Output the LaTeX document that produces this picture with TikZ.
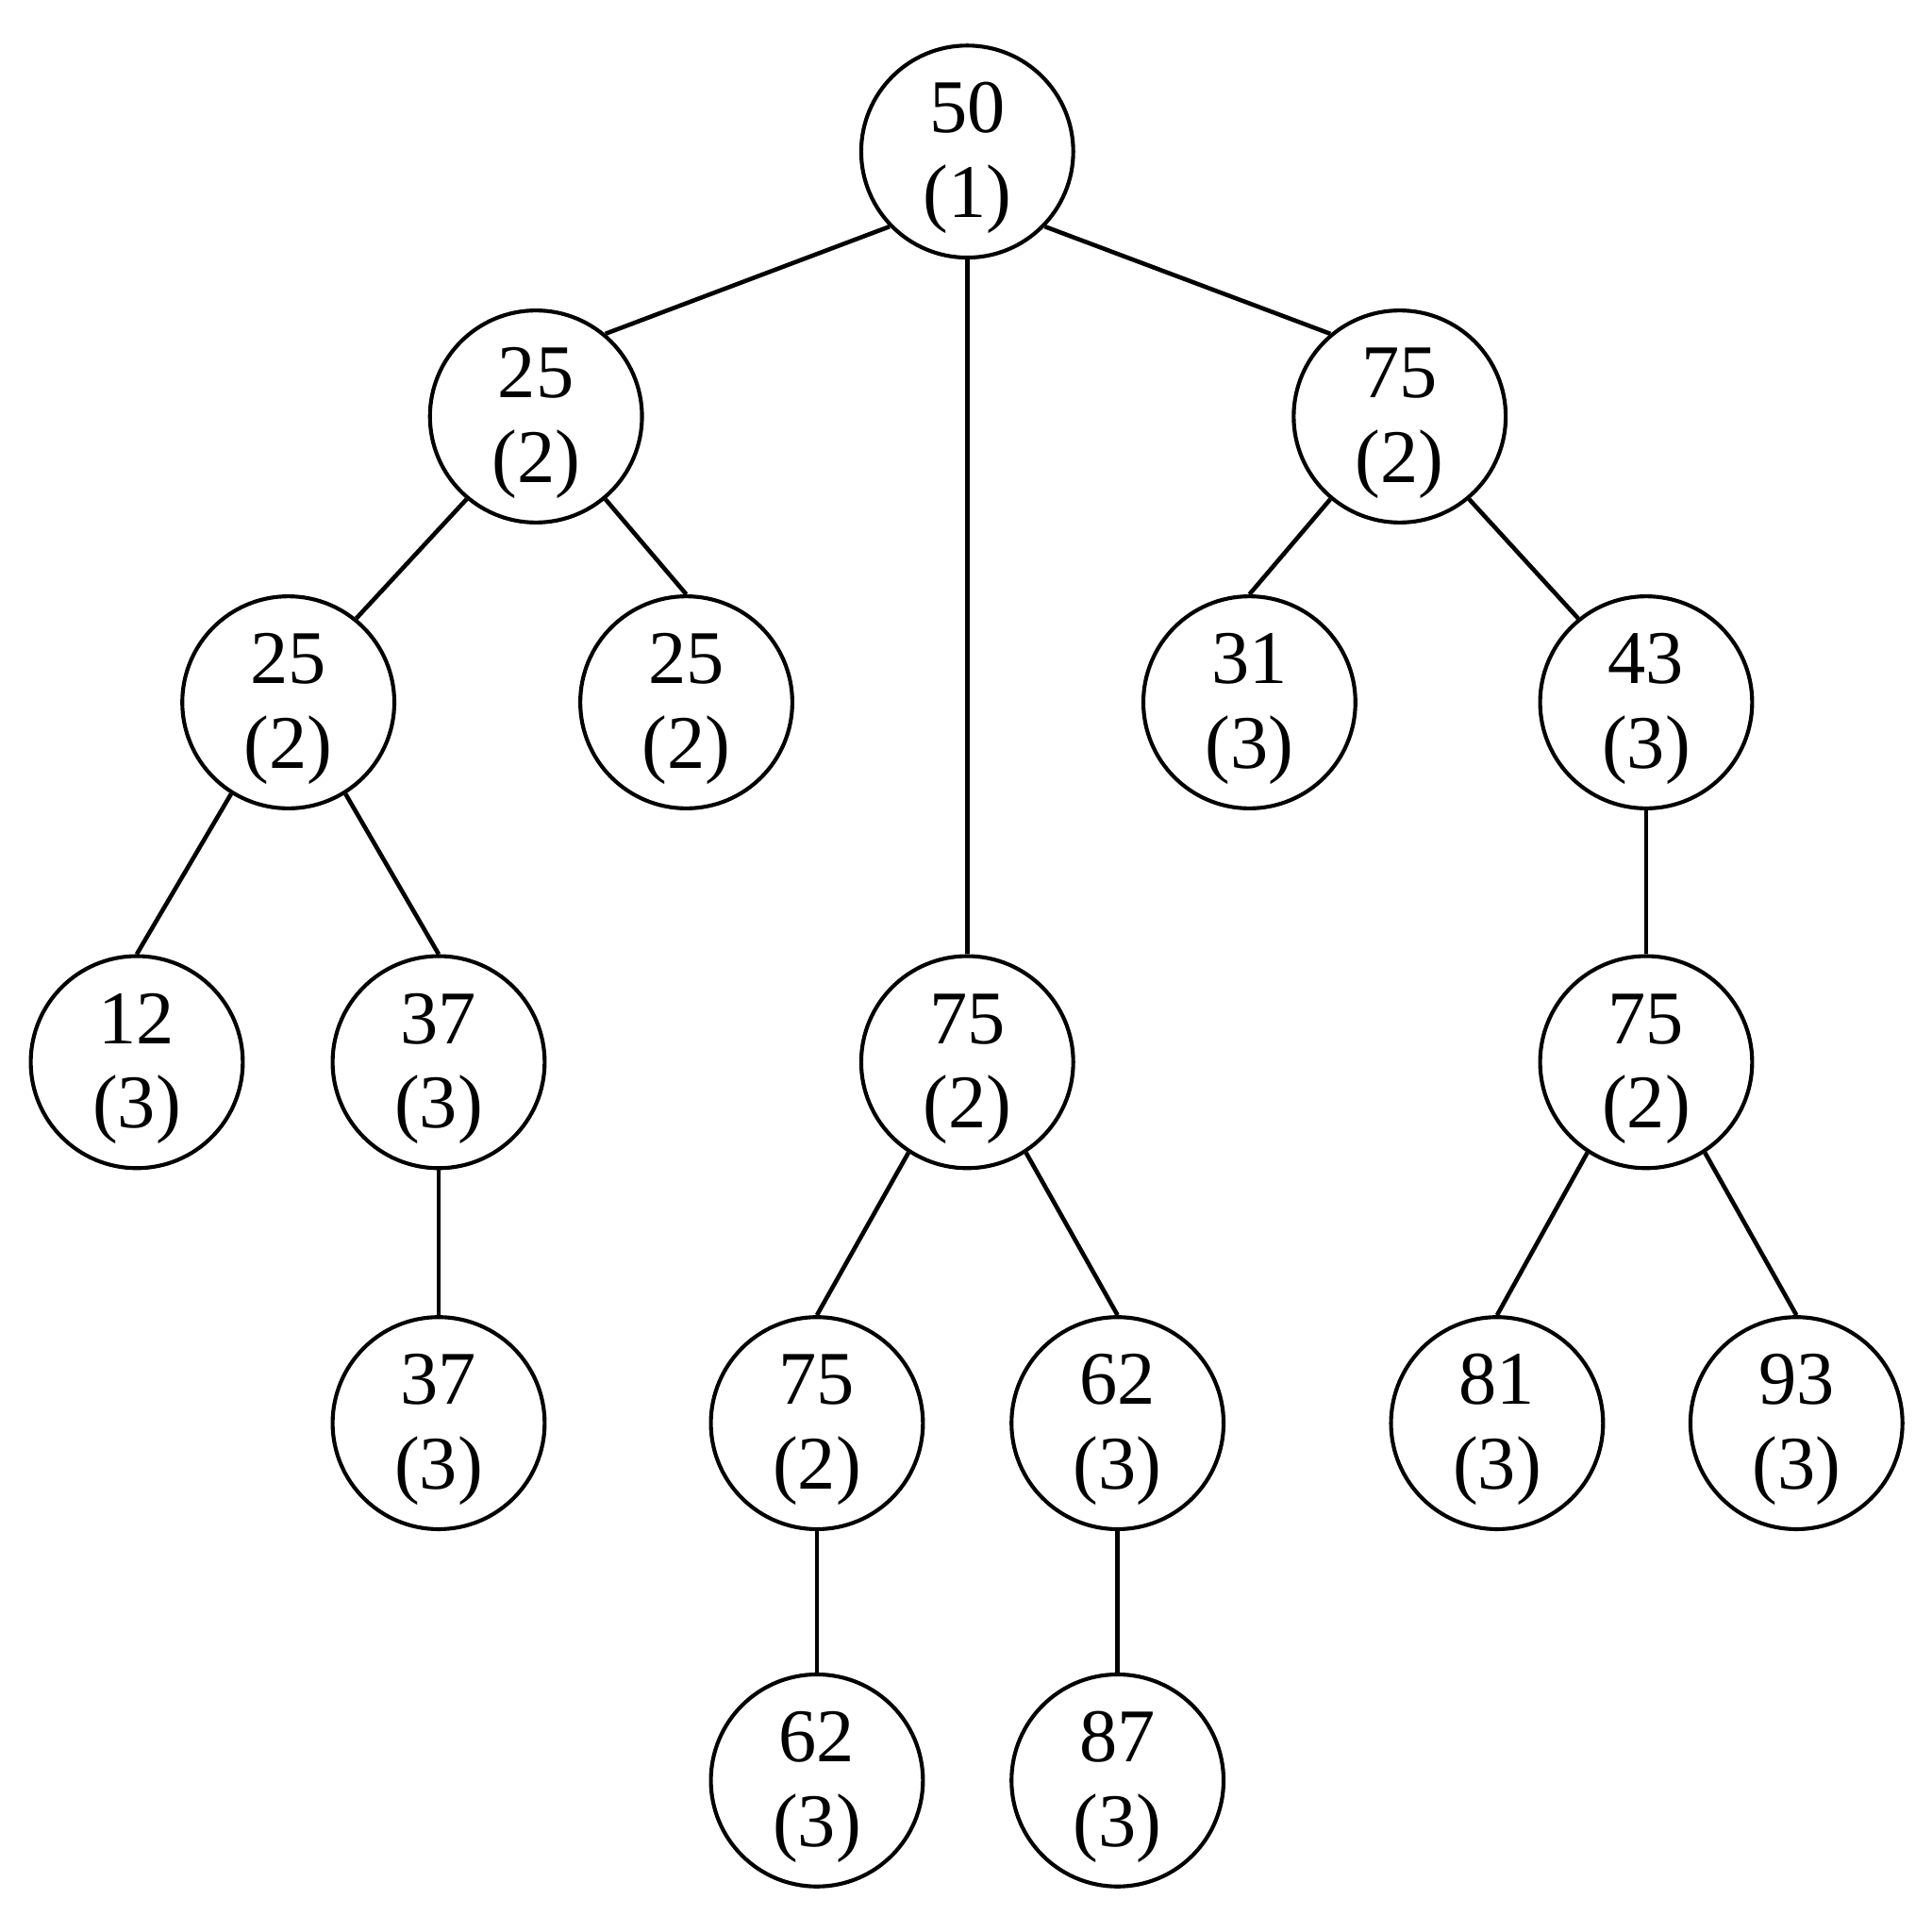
\documentclass[tikz,border=0pt]{standalone}
\usepackage{fontspec}
\setmainfont{Liberation Serif}
\newcommand\tstrut{\rule{0pt}{14.6pt}}
\begin{document}
\begin{tikzpicture}[x=0.01cm,y=-0.01cm,
  tn/.style={circle,draw,line width=0.9pt,minimum size=1.72cm,inner sep=0pt,align=center,
    font=\fontsize{17.5}{19.5}\selectfont},
  ed/.style={line width=1pt}]
\useasboundingbox[fill=white] (0,0) rectangle (1568,1568);
\node[tn] (r) at (785,123) {\tstrut 50\\(1)};
\node[tn] (a) at (435,338) {\tstrut 25\\(2)};
\node[tn] (b) at (1136,338) {\tstrut 75\\(2)};
\node[tn] (aa) at (234,570) {\tstrut 25\\(2)};
\node[tn] (ab) at (557,570) {\tstrut 25\\(2)};
\node[tn] (ba) at (1014,570) {\tstrut 31\\(3)};
\node[tn] (bb) at (1336,570) {\tstrut 43\\(3)};
\node[tn] (aaa) at (111,862) {\tstrut 12\\(3)};
\node[tn] (aab) at (356,862) {\tstrut 37\\(3)};
\node[tn] (m) at (785,862) {\tstrut 75\\(2)};
\node[tn] (bba) at (1336,862) {\tstrut 75\\(2)};
\node[tn] (aaba) at (356,1155) {\tstrut 37\\(3)};
\node[tn] (ma) at (663,1155) {\tstrut 75\\(2)};
\node[tn] (mb) at (907,1155) {\tstrut 62\\(3)};
\node[tn] (bbaa) at (1215,1155) {\tstrut 81\\(3)};
\node[tn] (bbab) at (1458,1155) {\tstrut 93\\(3)};
\node[tn] (maa) at (663,1445) {\tstrut 62\\(3)};
\node[tn] (mba) at (907,1445) {\tstrut 87\\(3)};
\draw[ed] (r.224) -- (a.50);
\draw[ed] (r) -- (m);
\draw[ed] (r.316) -- (b.130);
\draw[ed] (a.230) -- (aa.51);
\draw[ed] (a.310) -- (ab.north);
\draw[ed] (b.230) -- (ba.north);
\draw[ed] (b.310) -- (bb.129);
\draw[ed] (aa.238) -- (aaa.north);
\draw[ed] (aa.302) -- (aab.north);
\draw[ed] (aab) -- (aaba);
\draw[ed] (m.237) -- (ma.north);
\draw[ed] (m.303) -- (mb.north);
\draw[ed] (ma) -- (maa);
\draw[ed] (mb) -- (mba);
\draw[ed] (bb) -- (bba);
\draw[ed] (bba.237) -- (bbaa.north);
\draw[ed] (bba.303) -- (bbab.north);
\end{tikzpicture}
\end{document}
